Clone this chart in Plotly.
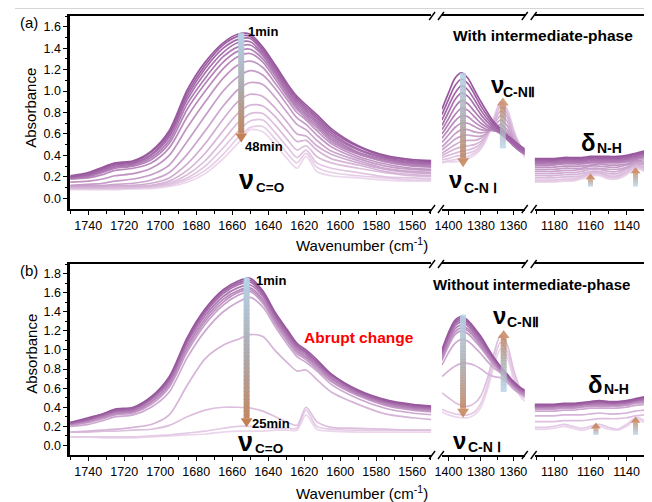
import plotly.graph_objects as go

# the page has an 8px body margin: the figure is sized and every pixel position is offset to fit it
OFF = 8
W, H = 652 - OFF, 502 - OFF
FONT = "Liberation Sans, Arial, sans-serif"

# ---------------- data ----------------
SEG1_X = [1750, 1740, 1732, 1725, 1715, 1705, 1695, 1685, 1675, 1665, 1657, 1650,
          1643, 1636, 1629, 1624, 1619, 1613, 1605, 1590, 1575, 1560, 1548]
SEG2_X = [1404, 1400, 1396, 1392, 1388, 1384, 1380, 1376, 1372, 1368, 1364, 1360, 1356, 1353]
SEG3_X = [1191, 1185, 1180, 1175, 1170, 1165, 1160, 1155, 1150, 1145, 1140, 1135, 1130, 1127]

# (a) With intermediate-phase : 1 min (first) ... 48 min (last)
A_SEG1 = [
    [0.21, 0.24, 0.29, 0.33, 0.35, 0.44, 0.63, 1.01, 1.27, 1.45, 1.53, 1.53, 1.41, 1.24, 1.06, 0.95, 0.87, 0.78, 0.65, 0.49, 0.40, 0.36, 0.35],
    [0.20, 0.23, 0.28, 0.32, 0.34, 0.43, 0.61, 0.98, 1.24, 1.43, 1.51, 1.51, 1.39, 1.22, 1.04, 0.93, 0.85, 0.76, 0.63, 0.48, 0.39, 0.35, 0.34],
    [0.20, 0.22, 0.27, 0.31, 0.33, 0.41, 0.59, 0.95, 1.21, 1.40, 1.48, 1.49, 1.37, 1.20, 1.02, 0.91, 0.83, 0.74, 0.61, 0.46, 0.38, 0.34, 0.33],
    [0.19, 0.21, 0.26, 0.30, 0.32, 0.40, 0.57, 0.92, 1.17, 1.36, 1.45, 1.46, 1.35, 1.18, 1.00, 0.89, 0.81, 0.72, 0.59, 0.45, 0.37, 0.33, 0.32],
    [0.19, 0.21, 0.25, 0.29, 0.31, 0.38, 0.54, 0.88, 1.12, 1.32, 1.41, 1.43, 1.33, 1.16, 0.98, 0.87, 0.79, 0.70, 0.57, 0.43, 0.36, 0.32, 0.31],
    [0.18, 0.20, 0.24, 0.28, 0.30, 0.36, 0.51, 0.83, 1.07, 1.27, 1.37, 1.39, 1.30, 1.14, 0.96, 0.85, 0.77, 0.68, 0.55, 0.42, 0.35, 0.31, 0.30],
    [0.18, 0.19, 0.22, 0.26, 0.28, 0.33, 0.47, 0.76, 1.00, 1.21, 1.32, 1.35, 1.27, 1.11, 0.94, 0.83, 0.75, 0.66, 0.53, 0.41, 0.34, 0.30, 0.29],
    [0.15, 0.16, 0.18, 0.21, 0.23, 0.28, 0.40, 0.66, 0.90, 1.12, 1.24, 1.28, 1.22, 1.07, 0.91, 0.80, 0.73, 0.63, 0.51, 0.39, 0.32, 0.28, 0.27],
    [0.12, 0.13, 0.14, 0.16, 0.18, 0.22, 0.31, 0.53, 0.77, 1.00, 1.13, 1.19, 1.15, 1.02, 0.86, 0.75, 0.69, 0.59, 0.48, 0.37, 0.30, 0.27, 0.26],
    [0.11, 0.12, 0.12, 0.13, 0.14, 0.17, 0.24, 0.41, 0.63, 0.86, 1.01, 1.08, 1.06, 0.94, 0.79, 0.69, 0.64, 0.54, 0.44, 0.35, 0.28, 0.25, 0.24],
    [0.11, 0.11, 0.11, 0.12, 0.12, 0.14, 0.19, 0.32, 0.51, 0.74, 0.90, 0.97, 0.95, 0.84, 0.70, 0.60, 0.58, 0.49, 0.41, 0.33, 0.27, 0.24, 0.23],
    [0.10, 0.10, 0.10, 0.11, 0.11, 0.12, 0.16, 0.26, 0.42, 0.63, 0.79, 0.87, 0.86, 0.76, 0.62, 0.53, 0.54, 0.45, 0.37, 0.31, 0.25, 0.22, 0.21],
    [0.10, 0.10, 0.10, 0.10, 0.10, 0.11, 0.14, 0.22, 0.35, 0.54, 0.70, 0.79, 0.79, 0.68, 0.54, 0.45, 0.49, 0.39, 0.33, 0.28, 0.24, 0.21, 0.20],
    [0.09, 0.09, 0.09, 0.09, 0.10, 0.11, 0.13, 0.19, 0.30, 0.47, 0.62, 0.72, 0.73, 0.61, 0.47, 0.38, 0.45, 0.33, 0.28, 0.24, 0.20, 0.19, 0.18],
    [0.09, 0.09, 0.09, 0.09, 0.09, 0.10, 0.12, 0.17, 0.26, 0.41, 0.56, 0.66, 0.67, 0.55, 0.41, 0.33, 0.42, 0.29, 0.24, 0.21, 0.19, 0.17, 0.17],
    [0.08, 0.08, 0.08, 0.08, 0.09, 0.09, 0.11, 0.15, 0.23, 0.37, 0.51, 0.64, 0.62, 0.50, 0.36, 0.28, 0.39, 0.25, 0.21, 0.19, 0.17, 0.16, 0.16],
]
A_SEG2 = [
    [0.83, 0.98, 1.12, 1.17, 1.12, 1.01, 0.90, 0.80, 0.71, 0.65, 0.59, 0.54, 0.49, 0.46],
    [0.78, 0.92, 1.05, 1.11, 1.07, 0.97, 0.86, 0.77, 0.69, 0.63, 0.57, 0.52, 0.47, 0.45],
    [0.73, 0.86, 0.98, 1.05, 1.01, 0.92, 0.82, 0.74, 0.67, 0.62, 0.56, 0.51, 0.46, 0.44],
    [0.68, 0.80, 0.92, 0.98, 0.95, 0.87, 0.78, 0.71, 0.65, 0.61, 0.55, 0.50, 0.45, 0.43],
    [0.64, 0.74, 0.85, 0.91, 0.88, 0.81, 0.74, 0.68, 0.64, 0.60, 0.55, 0.49, 0.44, 0.42],
    [0.60, 0.69, 0.78, 0.84, 0.82, 0.76, 0.70, 0.66, 0.63, 0.61, 0.56, 0.49, 0.44, 0.41],
    [0.56, 0.64, 0.72, 0.77, 0.76, 0.71, 0.67, 0.64, 0.63, 0.63, 0.58, 0.50, 0.44, 0.41],
    [0.52, 0.59, 0.66, 0.70, 0.70, 0.67, 0.64, 0.63, 0.64, 0.66, 0.61, 0.52, 0.45, 0.41],
    [0.48, 0.54, 0.60, 0.64, 0.64, 0.62, 0.61, 0.62, 0.65, 0.69, 0.64, 0.54, 0.46, 0.42],
    [0.45, 0.50, 0.55, 0.58, 0.59, 0.58, 0.58, 0.61, 0.67, 0.73, 0.68, 0.56, 0.47, 0.42],
    [0.42, 0.46, 0.50, 0.53, 0.54, 0.54, 0.56, 0.61, 0.69, 0.77, 0.72, 0.58, 0.48, 0.43],
    [0.40, 0.43, 0.46, 0.48, 0.49, 0.50, 0.53, 0.60, 0.71, 0.81, 0.76, 0.60, 0.49, 0.43],
    [0.38, 0.40, 0.42, 0.44, 0.45, 0.47, 0.51, 0.60, 0.73, 0.85, 0.79, 0.62, 0.50, 0.44],
    [0.36, 0.37, 0.39, 0.40, 0.42, 0.44, 0.49, 0.59, 0.74, 0.87, 0.81, 0.63, 0.49, 0.42],
    [0.34, 0.35, 0.36, 0.37, 0.39, 0.42, 0.47, 0.58, 0.75, 0.89, 0.83, 0.64, 0.48, 0.40],
    [0.33, 0.34, 0.34, 0.35, 0.37, 0.40, 0.46, 0.57, 0.75, 0.90, 0.84, 0.65, 0.47, 0.38],
]
A_SEG3 = [
    [0.37, 0.37, 0.37, 0.38, 0.38, 0.38, 0.39, 0.39, 0.39, 0.39, 0.40, 0.42, 0.44, 0.45],
    [0.36, 0.36, 0.36, 0.37, 0.37, 0.37, 0.38, 0.38, 0.38, 0.38, 0.39, 0.41, 0.43, 0.44],
    [0.35, 0.35, 0.35, 0.36, 0.36, 0.36, 0.37, 0.37, 0.37, 0.37, 0.38, 0.40, 0.42, 0.43],
    [0.34, 0.34, 0.34, 0.35, 0.35, 0.35, 0.36, 0.36, 0.36, 0.36, 0.37, 0.39, 0.41, 0.42],
    [0.33, 0.33, 0.33, 0.34, 0.34, 0.34, 0.35, 0.35, 0.35, 0.35, 0.36, 0.38, 0.40, 0.41],
    [0.32, 0.32, 0.32, 0.33, 0.33, 0.33, 0.34, 0.34, 0.34, 0.34, 0.35, 0.37, 0.39, 0.40],
    [0.31, 0.31, 0.31, 0.32, 0.32, 0.32, 0.33, 0.33, 0.33, 0.33, 0.34, 0.36, 0.38, 0.39],
    [0.29, 0.29, 0.29, 0.30, 0.30, 0.30, 0.31, 0.32, 0.31, 0.31, 0.32, 0.35, 0.36, 0.37],
    [0.27, 0.27, 0.27, 0.28, 0.28, 0.28, 0.30, 0.30, 0.29, 0.29, 0.31, 0.34, 0.34, 0.35],
    [0.25, 0.25, 0.25, 0.26, 0.26, 0.27, 0.28, 0.28, 0.27, 0.27, 0.29, 0.33, 0.32, 0.33],
    [0.23, 0.23, 0.23, 0.24, 0.24, 0.25, 0.27, 0.27, 0.25, 0.25, 0.28, 0.32, 0.31, 0.31],
    [0.21, 0.21, 0.21, 0.22, 0.22, 0.23, 0.25, 0.25, 0.23, 0.23, 0.27, 0.31, 0.29, 0.29],
    [0.19, 0.19, 0.19, 0.20, 0.20, 0.21, 0.24, 0.24, 0.21, 0.21, 0.25, 0.30, 0.28, 0.27],
    [0.17, 0.17, 0.17, 0.18, 0.18, 0.20, 0.23, 0.23, 0.20, 0.20, 0.24, 0.29, 0.27, 0.25],
    [0.16, 0.16, 0.16, 0.17, 0.17, 0.19, 0.22, 0.22, 0.19, 0.19, 0.23, 0.28, 0.26, 0.24],
    [0.15, 0.15, 0.15, 0.16, 0.16, 0.18, 0.21, 0.21, 0.18, 0.18, 0.22, 0.28, 0.25, 0.23],
]

# (b) Without intermediate-phase : 1 min (first) ... 25 min (last)
B_SEG1 = [
    [0.24, 0.29, 0.33, 0.38, 0.40, 0.51, 0.72, 1.13, 1.43, 1.63, 1.72, 1.75, 1.62, 1.39, 1.20, 1.07, 1.00, 0.90, 0.75, 0.58, 0.48, 0.43, 0.41],
    [0.24, 0.28, 0.33, 0.37, 0.39, 0.50, 0.70, 1.11, 1.41, 1.61, 1.70, 1.73, 1.60, 1.37, 1.18, 1.05, 0.98, 0.88, 0.74, 0.57, 0.47, 0.42, 0.40],
    [0.23, 0.27, 0.32, 0.36, 0.38, 0.49, 0.69, 1.09, 1.39, 1.59, 1.68, 1.71, 1.58, 1.35, 1.16, 1.04, 0.97, 0.87, 0.73, 0.56, 0.46, 0.41, 0.39],
    [0.23, 0.27, 0.31, 0.35, 0.37, 0.48, 0.67, 1.07, 1.36, 1.56, 1.65, 1.68, 1.56, 1.33, 1.14, 1.02, 0.95, 0.85, 0.71, 0.55, 0.45, 0.40, 0.38],
    [0.22, 0.26, 0.30, 0.34, 0.36, 0.46, 0.65, 1.04, 1.33, 1.53, 1.62, 1.65, 1.53, 1.31, 1.12, 1.00, 0.93, 0.84, 0.70, 0.54, 0.44, 0.39, 0.37],
    [0.22, 0.25, 0.29, 0.33, 0.35, 0.45, 0.63, 1.01, 1.30, 1.50, 1.60, 1.63, 1.51, 1.29, 1.10, 0.98, 0.92, 0.82, 0.68, 0.53, 0.43, 0.38, 0.36],
    [0.21, 0.24, 0.28, 0.32, 0.34, 0.43, 0.61, 0.98, 1.27, 1.47, 1.57, 1.61, 1.49, 1.27, 1.08, 0.96, 0.90, 0.80, 0.67, 0.52, 0.42, 0.37, 0.35],
    [0.20, 0.22, 0.26, 0.30, 0.32, 0.40, 0.56, 0.92, 1.20, 1.40, 1.50, 1.55, 1.45, 1.24, 1.05, 0.93, 0.87, 0.78, 0.64, 0.49, 0.39, 0.34, 0.32],
    [0.14, 0.15, 0.16, 0.17, 0.19, 0.22, 0.32, 0.63, 0.91, 1.05, 1.11, 1.16, 1.14, 0.99, 0.86, 0.78, 0.79, 0.69, 0.56, 0.43, 0.33, 0.29, 0.27],
    [0.14, 0.14, 0.15, 0.15, 0.16, 0.17, 0.21, 0.30, 0.37, 0.40, 0.40, 0.39, 0.36, 0.30, 0.24, 0.21, 0.40, 0.25, 0.19, 0.18, 0.17, 0.16, 0.16],
    [0.09, 0.09, 0.09, 0.09, 0.09, 0.10, 0.11, 0.13, 0.15, 0.18, 0.20, 0.20, 0.19, 0.18, 0.18, 0.18, 0.37, 0.20, 0.17, 0.16, 0.16, 0.16, 0.16],
    [0.09, 0.09, 0.08, 0.08, 0.08, 0.09, 0.10, 0.11, 0.12, 0.14, 0.15, 0.15, 0.15, 0.16, 0.16, 0.16, 0.32, 0.17, 0.15, 0.14, 0.14, 0.14, 0.14],
]
B_SEG2 = [
    [1.00, 1.18, 1.31, 1.35, 1.31, 1.23, 1.14, 1.03, 0.92, 0.83, 0.75, 0.67, 0.61, 0.58],
    [0.99, 1.16, 1.29, 1.33, 1.29, 1.21, 1.12, 1.01, 0.91, 0.82, 0.74, 0.66, 0.60, 0.57],
    [0.97, 1.14, 1.27, 1.31, 1.27, 1.19, 1.10, 1.00, 0.90, 0.81, 0.73, 0.65, 0.59, 0.56],
    [0.95, 1.12, 1.25, 1.29, 1.25, 1.17, 1.08, 0.98, 0.89, 0.80, 0.72, 0.64, 0.58, 0.55],
    [0.93, 1.09, 1.22, 1.26, 1.22, 1.15, 1.06, 0.96, 0.87, 0.79, 0.71, 0.63, 0.57, 0.54],
    [0.91, 1.07, 1.19, 1.23, 1.20, 1.13, 1.04, 0.95, 0.86, 0.78, 0.70, 0.62, 0.56, 0.53],
    [0.89, 1.04, 1.16, 1.20, 1.17, 1.10, 1.02, 0.93, 0.84, 0.77, 0.69, 0.61, 0.55, 0.52],
    [0.84, 0.97, 1.07, 1.11, 1.09, 1.03, 0.96, 0.88, 0.81, 0.76, 0.68, 0.60, 0.54, 0.51],
    [0.72, 0.78, 0.83, 0.86, 0.86, 0.84, 0.80, 0.75, 0.72, 0.71, 0.66, 0.59, 0.54, 0.51],
    [0.55, 0.50, 0.45, 0.42, 0.41, 0.44, 0.52, 0.70, 0.96, 1.15, 1.06, 0.80, 0.60, 0.53],
    [0.38, 0.35, 0.33, 0.32, 0.32, 0.35, 0.44, 0.63, 0.89, 1.08, 0.99, 0.74, 0.55, 0.49],
    [0.35, 0.32, 0.30, 0.29, 0.29, 0.32, 0.40, 0.58, 0.83, 1.01, 0.93, 0.70, 0.52, 0.46],
]
B_SEG3 = [
    [0.43, 0.43, 0.43, 0.44, 0.44, 0.45, 0.46, 0.47, 0.46, 0.46, 0.47, 0.49, 0.51, 0.52],
    [0.42, 0.42, 0.42, 0.43, 0.43, 0.44, 0.45, 0.46, 0.45, 0.45, 0.46, 0.48, 0.50, 0.51],
    [0.41, 0.41, 0.42, 0.42, 0.42, 0.43, 0.44, 0.45, 0.44, 0.44, 0.45, 0.47, 0.49, 0.50],
    [0.41, 0.41, 0.41, 0.42, 0.42, 0.43, 0.44, 0.44, 0.44, 0.44, 0.45, 0.47, 0.48, 0.49],
    [0.40, 0.40, 0.40, 0.41, 0.41, 0.42, 0.43, 0.43, 0.43, 0.43, 0.44, 0.46, 0.47, 0.48],
    [0.39, 0.39, 0.39, 0.40, 0.40, 0.41, 0.42, 0.42, 0.42, 0.42, 0.43, 0.45, 0.46, 0.47],
    [0.38, 0.38, 0.38, 0.39, 0.39, 0.40, 0.41, 0.41, 0.41, 0.41, 0.42, 0.44, 0.45, 0.46],
    [0.36, 0.36, 0.36, 0.37, 0.37, 0.38, 0.39, 0.39, 0.39, 0.39, 0.40, 0.42, 0.43, 0.44],
    [0.31, 0.31, 0.31, 0.32, 0.32, 0.32, 0.33, 0.34, 0.33, 0.33, 0.34, 0.36, 0.37, 0.38],
    [0.25, 0.25, 0.25, 0.26, 0.26, 0.26, 0.27, 0.28, 0.28, 0.28, 0.29, 0.31, 0.32, 0.33],
    [0.19, 0.19, 0.20, 0.22, 0.20, 0.18, 0.20, 0.22, 0.19, 0.17, 0.22, 0.29, 0.26, 0.22],
    [0.17, 0.17, 0.18, 0.20, 0.18, 0.16, 0.18, 0.20, 0.17, 0.16, 0.20, 0.27, 0.24, 0.20],
]

SEG1_TICKS = [1740, 1720, 1700, 1680, 1660, 1640, 1620, 1600, 1580, 1560]
SEG2_TICKS = [1400, 1380, 1360]
SEG3_TICKS = [1180, 1160, 1140]
Y_TICKS_A = [0.0, 0.2, 0.4, 0.6, 0.8, 1.0, 1.2, 1.4, 1.6]
Y_TICKS_B = [0.0, 0.2, 0.4, 0.6, 0.8, 1.0, 1.2, 1.4, 1.6, 1.8]

# ---------------- geometry (window pixels) ----------------
SEG_PX = {1: (64, 430), 2: (441, 525), 3: (535, 652)}
SEG_RANGE = {1: (1750, 1549.5), 2: (1404, 1353), 3: (1191, 1127)}
SEG_TICKS = {1: SEG1_TICKS, 2: SEG2_TICKS, 3: SEG3_TICKS}
PANEL_PX = {"a": (16, 209), "b": (264, 455)}
PANEL_RANGE = {"a": (-0.1, 1.7), "b": (-0.1, 1.9)}
PANEL_YTICKS = {"a": Y_TICKS_A, "b": Y_TICKS_B}
PANEL_DATA = {"a": (A_SEG1, A_SEG2, A_SEG3), "b": (B_SEG1, B_SEG2, B_SEG3)}
SEG_XS = {1: SEG1_X, 2: SEG2_X, 3: SEG3_X}


def fx(px):
    return (px - OFF) / W


def fy(py):
    return 1 - (py - OFF) / H


def to_px(panel, seg, xv, yv):
    x0, x1 = SEG_PX[seg]
    r0, r1 = SEG_RANGE[seg]
    px = x0 + (xv - r0) / (r1 - r0) * (x1 - x0)
    yt, yb = PANEL_PX[panel]
    lo, hi = PANEL_RANGE[panel]
    py = yb - (yv - lo) / (hi - lo) * (yb - yt)
    return px, py


def lerp(c0, c1, t):
    return tuple(c0[i] + (c1[i] - c0[i]) * t for i in range(3))


def rgb(c, a=1.0):
    return "rgba(%d,%d,%d,%.3f)" % (round(c[0]), round(c[1]), round(c[2]), a)


DARK = (152, 88, 158)
LIGHT = (236, 214, 236)

fig = go.Figure()
layout = dict(width=W, height=H, margin=dict(l=0, r=0, t=0, b=0),
              paper_bgcolor="white", plot_bgcolor="white", showlegend=False,
              font=dict(family=FONT, color="black"))

axis_idx = {"a": 0, "b": 3}
for panel in ("a", "b"):
    data = PANEL_DATA[panel]
    for seg in (1, 2, 3):
        k = axis_idx[panel] + seg
        xa = "x" if k == 1 else "x%d" % k
        ya = "y" if k == 1 else "y%d" % k
        curves = data[seg - 1]
        n = len(curves)
        for i in reversed(range(n)):
            t = i / (n - 1)
            fig.add_trace(go.Scatter(
                x=SEG_XS[seg], y=curves[i], mode="lines", xaxis=xa, yaxis=ya,
                line=dict(color=rgb(lerp(DARK, LIGHT, t)), width=1.7, shape="spline", smoothing=0.8),
                hoverinfo="skip"))
        x0, x1 = SEG_PX[seg]
        yt, yb = PANEL_PX[panel]
        ticks = SEG_TICKS[seg]
        minor = [t - 10 for t in ticks] + [ticks[0] + 10]
        layout["xaxis" if k == 1 else "xaxis%d" % k] = dict(
            domain=[fx(x0), min(1.0, fx(x1))], range=list(SEG_RANGE[seg]), anchor=ya,
            showline=True, linecolor="black", linewidth=2, mirror=True,
            showgrid=False, zeroline=False,
            tickmode="array", tickvals=ticks, ticktext=[str(v) for v in ticks],
            ticks="outside", ticklen=4, tickwidth=1.3, tickcolor="black",
            minor=dict(tickvals=minor, ticks="outside", ticklen=3, tickwidth=1.2, tickcolor="black"),
            tickfont=dict(size=12.5, family=FONT, color="black"))
        yd = dict(domain=[fy(yb), fy(yt)], range=list(PANEL_RANGE[panel]), anchor=xa,
                  showgrid=False, zeroline=False)
        if seg == 1:
            yt_vals = PANEL_YTICKS[panel]
            yd.update(showline=True, linecolor="black", linewidth=2.5,
                      tickmode="array", tickvals=yt_vals, ticktext=["%.1f" % v for v in yt_vals],
                      ticks="outside", ticklen=4, tickwidth=1.3, tickcolor="black",
                      minor=dict(tickvals=[v + 0.1 for v in yt_vals], ticks="outside",
                                 ticklen=2, tickwidth=1, tickcolor="black"),
                      tickfont=dict(size=12.5, family=FONT, color="black"))
        else:
            yd.update(showline=False, showticklabels=False, ticks="")
        layout["yaxis" if k == 1 else "yaxis%d" % k] = yd

shapes = []
# faint crop line at the very top
shapes.append(dict(type="line", xref="paper", yref="paper", x0=0, x1=1, y0=fy(8.5), y1=fy(8.5),
                   line=dict(color="#d6d6d6", width=1)))
# axis break marks
for panel in ("a", "b"):
    yt, yb = PANEL_PX[panel]
    for cx in (431, 440, 525, 534):
        for yy in (yt, yb):
            shapes.append(dict(type="line", xref="paper", yref="paper",
                               x0=fx(cx - 3), y0=fy(yy + 4), x1=fx(cx + 3), y1=fy(yy - 4),
                               line=dict(color="black", width=1.4)))

BLUE = (182, 212, 234)
GREY = (172, 170, 174)
BROWN = (196, 128, 84)


def grad(t):
    if t < 0.5:
        return lerp(BLUE, GREY, t / 0.5)
    return lerp(GREY, BROWN, (t - 0.5) / 0.5)


# arrows: panel, segment, x value, start y (blue end), tip y (brown end), shaft px, head w, head h, opacity
ARROWS = [
    ("a", 1, 1655, 1.54, 0.52, 6, 12, 9, 1.0),
    ("a", 2, 1391, 1.17, 0.29, 6, 12, 9, 0.85),
    ("a", 2, 1366.5, 0.465, 0.94, 6, 12, 8, 0.75),
    ("a", 3, 1160, 0.11, 0.23, 5, 10, 6, 0.85),
    ("a", 3, 1135, 0.11, 0.29, 5, 10, 6, 0.85),
    ("b", 1, 1652, 1.755, 0.19, 6, 12, 9, 1.0),
    ("b", 2, 1391, 1.37, 0.29, 6, 12, 9, 0.85),
    ("b", 2, 1366, 0.56, 1.21, 6, 12, 8, 0.8),
    ("b", 3, 1157, 0.11, 0.24, 5, 10, 6, 0.85),
    ("b", 3, 1135, 0.11, 0.30, 5, 10, 6, 0.85),
]
for panel, seg, xv, y_start, y_tip, sw, hw, hh, op in ARROWS:
    px, p_start = to_px(panel, seg, xv, y_start)
    _, p_tip = to_px(panel, seg, xv, y_tip)
    d = 1 if p_tip > p_start else -1
    p_base = p_tip - d * hh
    N = 36
    for j in range(N):
        a0 = p_start + (p_base - p_start) * j / N
        a1 = p_start + (p_base - p_start) * (j + 1.3) / N
        if (j + 1) == N:
            a1 = p_base
        c = grad((j + 0.5) / N * 0.92)
        shapes.append(dict(type="rect", xref="paper", yref="paper", layer="above",
                           x0=fx(px - sw / 2), x1=fx(px + sw / 2), y0=fy(a0), y1=fy(a1),
                           fillcolor=rgb(c), line=dict(width=0), opacity=op))
    path = "M %f %f L %f %f L %f %f Z" % (fx(px - hw / 2), fy(p_base), fx(px + hw / 2), fy(p_base),
                                        fx(px), fy(p_tip))
    shapes.append(dict(type="path", xref="paper", yref="paper", layer="above", path=path,
                       fillcolor=rgb(BROWN), line=dict(width=0), opacity=op))
layout["shapes"] = shapes

ann = []


def text(s, px, py, size, xanchor="center", color="black", angle=0, yanchor="middle"):
    ann.append(dict(text=s, x=fx(px), y=fy(py), xref="paper", yref="paper", showarrow=False,
                    xanchor=xanchor, yanchor=yanchor, textangle=angle,
                    font=dict(size=size, color=color, family=FONT)))


# panel (a)
text("(a)", 22, 22, 15)
text("Absorbance", 23, 108, 15, angle=-90)
text("<b>1min</b>", 242, 31, 13, xanchor="left")
text("<b>48min</b>", 239, 146, 13, xanchor="left")
text("<b>ν</b>", 243, 180, 27)
text("<b>C=O</b>", 250, 187, 13.5, xanchor="left")
text("<b>With intermediate-phase</b>", 543, 36, 15.5)
text("<b>ν</b>", 497, 84, 24)
text("<b>C-NⅡ</b>", 501, 92, 14, xanchor="left")
text("<b>ν</b>", 455, 180, 24)
text("<b>C-N Ⅰ</b>", 461, 188, 14, xanchor="left")
text("<b>δ</b>", 590, 142, 24)
text("<b>N-H</b>", 596, 148, 14, xanchor="left")
text("Wavenumber (cm<sup>-1</sup>)", 360, 245, 15)
# panel (b)
text("(b)", 22, 270, 15)
text("Absorbance", 24, 354, 15, angle=-90)
text("<b>1min</b>", 250, 280, 13, xanchor="left")
text("<b>25min</b>", 246, 423, 13, xanchor="left")
text("<b>ν</b>", 242, 442, 27)
text("<b>C=O</b>", 249, 448, 13.5, xanchor="left")
text("<b>Abrupt change</b>", 357, 337, 15.5, color="#ff0000")
text("<b>Without intermediate-phase</b>", 532, 284, 15)
text("<b>ν</b>", 499, 315, 24)
text("<b>C-NⅡ</b>", 505, 322, 14, xanchor="left")
text("<b>ν</b>", 459, 440, 24)
text("<b>C-N Ⅰ</b>", 465, 447, 14, xanchor="left")
text("<b>δ</b>", 597, 384, 24)
text("<b>N-H</b>", 603, 389, 14, xanchor="left")
text("Wavenumber (cm<sup>-1</sup>)", 360, 492, 15)
layout["annotations"] = ann

fig.update_layout(**layout)
fig.write_html("out.html")
